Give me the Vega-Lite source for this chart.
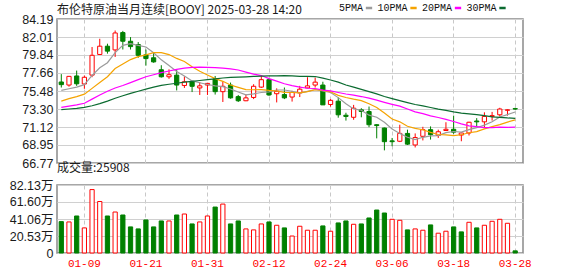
{
 "$schema": "https://vega.github.io/schema/vega-lite/v6.json",
 "padding": {"left": 8, "top": 3, "right": 5, "bottom": 2},
 "background": "white",
 "bounds": "flush",
 "spacing": 22,
 "data": {"values": [
  {"d":"01-06","o":76.57,"h":77.52,"l":75.9,"c":76.25,"5PMA":75.55,"10PMA":74.25,"20PMA":73.5,"30PMA":73.22,"vol":37.9,"vdir":"down"},
  {"d":"01-07","o":76.2,"h":77.3,"l":76.0,"c":77.25,"5PMA":75.75,"10PMA":74.55,"20PMA":73.65,"30PMA":73.3,"vol":37.5,"vdir":"up"},
  {"d":"01-08","o":77.3,"h":77.95,"l":76.1,"c":76.35,"5PMA":75.95,"10PMA":74.8,"20PMA":73.8,"30PMA":73.38,"vol":44.7,"vdir":"down"},
  {"d":"01-09","o":76.33,"h":77.35,"l":75.75,"c":77.14,"5PMA":76.25,"10PMA":75.1,"20PMA":74.0,"30PMA":73.5,"vol":30.3,"vdir":"up"},
  {"d":"01-10","o":77.4,"h":80.8,"l":77.15,"c":79.8,"5PMA":77.36,"10PMA":75.8,"20PMA":74.5,"30PMA":73.7,"vol":76.6,"vdir":"up"},
  {"d":"01-13","o":79.9,"h":81.8,"l":79.85,"c":80.9,"5PMA":78.29,"10PMA":76.5,"20PMA":75.0,"30PMA":73.95,"vol":62.2,"vdir":"up"},
  {"d":"01-14","o":80.9,"h":81.2,"l":80.0,"c":80.3,"5PMA":78.9,"10PMA":77.2,"20PMA":75.45,"30PMA":74.25,"vol":44.7,"vdir":"down"},
  {"d":"01-15","o":80.45,"h":82.8,"l":79.6,"c":82.5,"5PMA":80.13,"10PMA":78.2,"20PMA":75.85,"30PMA":74.6,"vol":49.5,"vdir":"up"},
  {"d":"01-16","o":82.55,"h":82.75,"l":80.5,"c":81.5,"5PMA":81.0,"10PMA":78.75,"20PMA":76.15,"30PMA":74.9,"vol":45.9,"vdir":"down"},
  {"d":"01-17","o":81.5,"h":82.0,"l":80.5,"c":80.85,"5PMA":81.21,"10PMA":79.28,"20PMA":76.5,"30PMA":75.2,"vol":31.5,"vdir":"down"},
  {"d":"01-20","o":81.1,"h":81.4,"l":79.5,"c":79.8,"5PMA":80.99,"10PMA":79.64,"20PMA":76.85,"30PMA":75.45,"vol":29.1,"vdir":"down"},
  {"d":"01-21","o":79.85,"h":80.5,"l":78.55,"c":79.4,"5PMA":80.81,"10PMA":79.85,"20PMA":77.2,"30PMA":75.7,"vol":39.9,"vdir":"down"},
  {"d":"01-22","o":79.5,"h":80.1,"l":78.9,"c":79.0,"5PMA":80.11,"10PMA":80.12,"20PMA":77.45,"30PMA":75.95,"vol":31.5,"vdir":"down"},
  {"d":"01-23","o":78.05,"h":78.6,"l":77.1,"c":77.2,"5PMA":79.25,"10PMA":80.13,"20PMA":77.7,"30PMA":76.15,"vol":38.7,"vdir":"down"},
  {"d":"01-24","o":77.2,"h":78.1,"l":76.95,"c":77.45,"5PMA":78.57,"10PMA":79.89,"20PMA":77.9,"30PMA":76.3,"vol":38.7,"vdir":"up"},
  {"d":"01-27","o":77.4,"h":78.1,"l":75.55,"c":76.2,"5PMA":77.85,"10PMA":79.42,"20PMA":78.1,"30PMA":76.42,"vol":45.9,"vdir":"down"},
  {"d":"01-28","o":76.15,"h":77.25,"l":75.85,"c":76.6,"5PMA":77.29,"10PMA":79.05,"20PMA":78.25,"30PMA":76.55,"vol":47.1,"vdir":"up"},
  {"d":"01-29","o":76.65,"h":76.7,"l":75.35,"c":76.05,"5PMA":76.7,"10PMA":78.41,"20PMA":78.33,"30PMA":76.65,"vol":35.1,"vdir":"down"},
  {"d":"01-30","o":75.85,"h":76.55,"l":75.0,"c":76.1,"5PMA":76.48,"10PMA":77.87,"20PMA":78.37,"30PMA":76.75,"vol":37.5,"vdir":"up"},
  {"d":"01-31","o":76.2,"h":76.45,"l":75.0,"c":76.4,"5PMA":76.27,"10PMA":77.42,"20PMA":78.35,"30PMA":76.85,"vol":44.7,"vdir":"up"},
  {"d":"02-03","o":76.95,"h":77.3,"l":75.05,"c":75.4,"5PMA":76.11,"10PMA":76.98,"20PMA":78.31,"30PMA":76.95,"vol":55.5,"vdir":"down"},
  {"d":"02-04","o":75.4,"h":76.6,"l":74.15,"c":76.05,"5PMA":76.0,"10PMA":76.65,"20PMA":78.25,"30PMA":77.05,"vol":59.1,"vdir":"up"},
  {"d":"02-05","o":76.2,"h":76.5,"l":74.55,"c":74.65,"5PMA":75.72,"10PMA":76.21,"20PMA":78.16,"30PMA":77.12,"vol":35.1,"vdir":"down"},
  {"d":"02-06","o":74.8,"h":75.0,"l":74.15,"c":74.3,"5PMA":75.36,"10PMA":75.92,"20PMA":78.02,"30PMA":77.17,"vol":38.7,"vdir":"down"},
  {"d":"02-07","o":74.3,"h":75.1,"l":74.25,"c":74.65,"5PMA":75.01,"10PMA":75.64,"20PMA":77.77,"30PMA":77.2,"vol":29.1,"vdir":"up"},
  {"d":"02-10","o":74.7,"h":76.3,"l":74.5,"c":76.05,"5PMA":75.14,"10PMA":75.63,"20PMA":77.52,"30PMA":77.24,"vol":27.9,"vdir":"up"},
  {"d":"02-11","o":75.95,"h":77.35,"l":75.85,"c":76.85,"5PMA":75.3,"10PMA":75.65,"20PMA":77.35,"30PMA":77.28,"vol":35.1,"vdir":"up"},
  {"d":"02-12","o":76.85,"h":76.95,"l":74.9,"c":75.0,"5PMA":75.37,"10PMA":75.55,"20PMA":76.98,"30PMA":77.3,"vol":37.5,"vdir":"down"},
  {"d":"02-13","o":75.15,"h":75.8,"l":74.1,"c":75.45,"5PMA":75.6,"10PMA":75.48,"20PMA":76.67,"30PMA":77.32,"vol":33.5,"vdir":"up"},
  {"d":"02-14","o":75.05,"h":75.9,"l":74.5,"c":74.65,"5PMA":75.6,"10PMA":75.31,"20PMA":76.36,"30PMA":77.34,"vol":30.3,"vdir":"down"},
  {"d":"02-17","o":74.75,"h":75.5,"l":74.2,"c":75.3,"5PMA":75.45,"10PMA":75.3,"20PMA":76.14,"30PMA":77.3,"vol":20.5,"vdir":"up"},
  {"d":"02-18","o":75.25,"h":76.1,"l":74.75,"c":75.7,"5PMA":75.22,"10PMA":75.26,"20PMA":75.95,"30PMA":77.25,"vol":32.3,"vdir":"up"},
  {"d":"02-19","o":75.85,"h":77.15,"l":75.8,"c":76.1,"5PMA":75.44,"10PMA":75.41,"20PMA":75.81,"30PMA":77.24,"vol":27.5,"vdir":"up"},
  {"d":"02-20","o":76.2,"h":77.1,"l":75.9,"c":76.55,"5PMA":75.66,"10PMA":75.63,"20PMA":75.78,"30PMA":77.23,"vol":27.5,"vdir":"up"},
  {"d":"02-21","o":76.2,"h":76.6,"l":73.8,"c":73.8,"5PMA":75.49,"10PMA":75.55,"20PMA":75.59,"30PMA":77.03,"vol":32.7,"vdir":"down"},
  {"d":"02-24","o":73.85,"h":74.5,"l":73.6,"c":74.35,"5PMA":75.3,"10PMA":75.38,"20PMA":75.5,"30PMA":76.81,"vol":26.3,"vdir":"up"},
  {"d":"02-25","o":74.25,"h":74.7,"l":72.25,"c":72.6,"5PMA":74.68,"10PMA":74.95,"20PMA":75.3,"30PMA":76.55,"vol":36.3,"vdir":"down"},
  {"d":"02-26","o":72.55,"h":72.85,"l":71.9,"c":72.4,"5PMA":73.94,"10PMA":74.69,"20PMA":75.12,"30PMA":76.21,"vol":38.7,"vdir":"down"},
  {"d":"02-27","o":72.3,"h":73.8,"l":72.0,"c":73.4,"5PMA":73.31,"10PMA":74.49,"20PMA":74.98,"30PMA":75.94,"vol":34.7,"vdir":"up"},
  {"d":"02-28","o":73.2,"h":73.4,"l":72.3,"c":73.0,"5PMA":73.15,"10PMA":74.32,"20PMA":74.81,"30PMA":75.68,"vol":35.1,"vdir":"down"},
  {"d":"03-03","o":73.0,"h":73.6,"l":71.1,"c":71.4,"5PMA":72.56,"10PMA":73.93,"20PMA":74.61,"30PMA":75.4,"vol":42.3,"vdir":"down"},
  {"d":"03-04","o":71.4,"h":71.45,"l":69.75,"c":71.3,"5PMA":72.3,"10PMA":73.49,"20PMA":74.38,"30PMA":75.13,"vol":51.9,"vdir":"down"},
  {"d":"03-05","o":71.0,"h":71.05,"l":68.3,"c":69.35,"5PMA":71.69,"10PMA":72.82,"20PMA":74.11,"30PMA":74.81,"vol":48.3,"vdir":"down"},
  {"d":"03-06","o":69.45,"h":69.8,"l":68.8,"c":69.35,"5PMA":70.88,"10PMA":72.1,"20PMA":73.86,"30PMA":74.55,"vol":40.7,"vdir":"up"},
  {"d":"03-07","o":69.4,"h":71.4,"l":69.3,"c":70.35,"5PMA":70.35,"10PMA":71.75,"20PMA":73.65,"30PMA":74.31,"vol":39.5,"vdir":"up"},
  {"d":"03-10","o":70.35,"h":70.8,"l":68.95,"c":69.05,"5PMA":69.88,"10PMA":71.22,"20PMA":73.3,"30PMA":74.07,"vol":27.9,"vdir":"down"},
  {"d":"03-11","o":68.95,"h":70.35,"l":68.65,"c":69.85,"5PMA":69.59,"10PMA":70.95,"20PMA":72.95,"30PMA":73.85,"vol":29.1,"vdir":"up"},
  {"d":"03-12","o":70.0,"h":71.15,"l":69.5,"c":70.8,"5PMA":69.88,"10PMA":70.79,"20PMA":72.74,"30PMA":73.67,"vol":27.5,"vdir":"up"},
  {"d":"03-13","o":70.8,"h":71.2,"l":69.6,"c":70.2,"5PMA":70.05,"10PMA":70.47,"20PMA":72.48,"30PMA":73.48,"vol":33.9,"vdir":"down"},
  {"d":"03-14","o":70.1,"h":70.8,"l":69.8,"c":70.55,"5PMA":70.09,"10PMA":70.22,"20PMA":72.27,"30PMA":73.28,"vol":23.9,"vdir":"up"},
  {"d":"03-17","o":70.7,"h":71.7,"l":70.65,"c":70.85,"5PMA":70.45,"10PMA":70.17,"20PMA":72.05,"30PMA":73.13,"vol":26.3,"vdir":"up"},
  {"d":"03-18","o":70.85,"h":72.5,"l":70.3,"c":70.5,"5PMA":70.58,"10PMA":70.09,"20PMA":71.79,"30PMA":72.95,"vol":31.5,"vdir":"down"},
  {"d":"03-19","o":70.15,"h":70.45,"l":69.4,"c":70.4,"5PMA":70.5,"10PMA":70.19,"20PMA":71.5,"30PMA":72.8,"vol":25.5,"vdir":"down"},
  {"d":"03-20","o":70.4,"h":71.75,"l":70.1,"c":71.7,"5PMA":70.8,"10PMA":70.43,"20PMA":71.26,"30PMA":72.72,"vol":37.1,"vdir":"up"},
  {"d":"03-21","o":71.85,"h":72.2,"l":71.2,"c":71.75,"5PMA":71.04,"10PMA":70.57,"20PMA":71.16,"30PMA":72.62,"vol":30.3,"vdir":"down"},
  {"d":"03-24","o":71.75,"h":72.9,"l":71.1,"c":72.4,"5PMA":71.35,"10PMA":70.9,"20PMA":71.06,"30PMA":72.5,"vol":33.5,"vdir":"up"},
  {"d":"03-25","o":72.4,"h":72.95,"l":71.9,"c":72.5,"5PMA":71.75,"10PMA":71.17,"20PMA":71.06,"30PMA":72.35,"vol":38.3,"vdir":"up"},
  {"d":"03-26","o":72.6,"h":73.45,"l":72.4,"c":73.3,"5PMA":72.33,"10PMA":71.42,"20PMA":71.1,"30PMA":72.3,"vol":40.7,"vdir":"up"},
  {"d":"03-27","o":73.15,"h":73.25,"l":72.5,"c":73.2,"5PMA":72.63,"10PMA":71.72,"20PMA":71.09,"30PMA":72.22,"vol":35.9,"vdir":"up"},
  {"d":"03-28","o":73.35,"h":73.45,"l":73.2,"c":73.3,"5PMA":72.94,"10PMA":71.99,"20PMA":71.11,"30PMA":72.18,"vol":2.5908,"vdir":"down"}
 ]},
 "vconcat": [
  {
   "width": 466,
   "height": 144,
   "title": {"text": "布伦特原油当月连续[BOOY] 2025-03-28 14:20", "offset": -4},
   "encoding": {
    "x": {"field": "d", "type": "ordinal", "title": null,
          "scale": {"type": "band", "paddingInner": 0.45, "paddingOuter": 0.5125, "align": 0.277},
          "axis": {"values": ["01-09","01-21","01-31","02-12","02-24","03-06","03-18","03-28"], "labels": false}}
   },
   "layer": [
    {
     "mark": {"type": "rule", "strokeWidth": 1},
     "encoding": {
      "y": {"field": "l", "type": "quantitative", "title": null,
            "scale": {"domain": [66.77, 84.19], "nice": false, "zero": false},
            "axis": {"values": [66.77, 68.95, 71.12, 73.3, 75.48, 77.66, 79.84, 82.01, 84.19], "format": ".2f"}},
      "y2": {"field": "h"},
      "stroke": {"condition": {"test": "datum.c >= datum.o", "value": "#ff0000"}, "value": "#008000"}
     }
    },
    {
     "mark": {"type": "bar", "strokeWidth": 1},
     "encoding": {
      "y": {"field": "o", "type": "quantitative", "title": null,
            "scale": {"domain": [66.77, 84.19], "nice": false, "zero": false},
            "axis": {"values": [66.77, 68.95, 71.12, 73.3, 75.48, 77.66, 79.84, 82.01, 84.19], "format": ".2f"}},
      "y2": {"field": "c"},
      "fill": {"condition": {"test": "datum.c >= datum.o", "value": "#ffffff"}, "value": "#008000"},
      "stroke": {"condition": {"test": "datum.c >= datum.o", "value": "#ff0000"}, "value": "#008000"}
     }
    },
    {
     "transform": [{"fold": ["5PMA", "10PMA", "20PMA", "30PMA"], "as": ["ma", "v"]}],
     "mark": {"type": "line", "strokeWidth": 1.2},
     "encoding": {
      "y": {"field": "v", "type": "quantitative", "title": null,
            "scale": {"domain": [66.77, 84.19], "nice": false, "zero": false},
            "axis": {"values": [66.77, 68.95, 71.12, 73.3, 75.48, 77.66, 79.84, 82.01, 84.19], "format": ".2f"}},
      "color": {"field": "ma", "type": "nominal",
                "scale": {"domain": ["5PMA", "10PMA", "20PMA", "30PMA"], "range": ["#9b9b9b", "#f5a300", "#ff00ff", "#0b6b30"]},
                "legend": {"orient": "none", "legendX": 307, "legendY": -16, "direction": "horizontal", "title": null,
                           "symbolType": "stroke", "symbolSize": 40, "symbolStrokeWidth": 2.5,
                           "labelFont": "Liberation Mono", "labelFontSize": 10, "labelColor": "#111111",
                           "labelAlign": "right", "labelOffset": -11, "columnPadding": -1.5, "padding": 0}}
     }
    }
   ]
  },
  {
   "width": 466,
   "height": 68,
   "title": {"text": "成交量:25908", "offset": 4},
   "mark": {"type": "bar", "strokeWidth": 1},
   "encoding": {
    "x": {"field": "d", "type": "ordinal", "title": null,
          "scale": {"type": "band", "paddingInner": 0.45, "paddingOuter": 0.5125, "align": 0.277},
          "axis": {"values": ["01-09","01-21","01-31","02-12","02-24","03-06","03-18","03-28"],
                   "labelColor": "#ff0000", "labelFont": "Liberation Mono", "labelFontSize": 11, "labelPadding": 4}},
    "y": {"field": "vol", "type": "quantitative", "title": null,
          "scale": {"domain": [0, 82.13], "nice": false},
          "axis": {"values": [0, 20.53, 41.06, 61.6, 82.13],
                   "labelExpr": "datum.value == 0 ? '0' : format(datum.value, '.2f') + '万'"}},
    "fill": {"condition": {"test": "datum.vdir == 'up'", "value": "#ffffff"}, "value": "#008000"},
    "stroke": {"condition": {"test": "datum.vdir == 'up'", "value": "#ff0000"}, "value": "#008000"}
   }
  }
 ],
 "config": {
  "view": {"stroke": "#8a8a8a", "strokeWidth": 1.5},
  "axis": {"domain": false, "ticks": false, "gridColor": "#d0d0d0", "gridWidth": 1,
           "labelFont": "Liberation Sans, Noto Sans CJK SC", "labelFontSize": 12.5, "labelColor": "#1a1a1a",
           "labelOverlap": false, "labelFlush": false, "labelBound": false},
  "axisX": {"grid": true, "gridDash": [4, 3], "gridColor": "#c8c8c8", "labelAngle": 0},
  "axisY": {"grid": true, "labelPadding": 4},
  "title": {"font": "Noto Sans CJK SC", "fontSize": 12, "fontWeight": "normal", "color": "#1a1a1a", "anchor": "start", "frame": "group"}
 }
}
